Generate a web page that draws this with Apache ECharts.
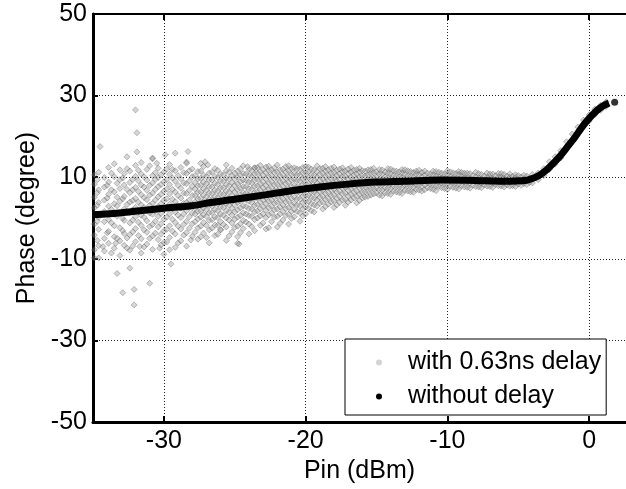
<!DOCTYPE html>
<html><head><meta charset="utf-8">
<script src="https://cdn.jsdelivr.net/npm/echarts@6/dist/echarts.min.js"></script>
<style>html,body{margin:0;padding:0;background:#fff}#c{width:626px;height:489px}</style>
</head><body><div id="c"></div>
<script>
// ---- data ----
const xTicks = [-30, -20, -10, 0];
const yTicks = [-50, -30, -10, 10, 30, 50];
const seriesNames = ['with 0.63ns delay', 'without delay'];

// "without delay" curve: Pin (dBm) and Phase (degree)
const curvePin   = [-35, -33, -31.7, -30, -28, -26.7, -25, -23, -21, -19, -17, -15, -13, -10.5, -8, -6, -4.5, -4, -3.5, -3, -2.5, -2, -1.5, -1, -0.5, 0, 0.5, 1.0, 1.4];
const curvePhase = [0.8, 1.3, 1.8, 2.4, 3.0, 3.8, 4.6, 5.6, 6.7, 7.6, 8.3, 8.8, 9.0, 9.3, 9.2, 9.0, 9.2, 9.7, 10.5, 11.8, 13.5, 15.4, 17.6, 19.8, 22.3, 24.4, 26.2, 27.5, 28.2];
const lastPin = [1.8];
const lastPhase = [28.4];

// "with 0.63ns delay" cloud: each column = [Pin, phase values...]
const cloudColumns = [
 [-34.9,-9.8,-4.2,-1.5,2.5,5.1,8.3,10.6],
 [-34.7,-5.5,-0.8,3.1,6.2,9.4],
 [-34.6,-6.8,-2.8,0.2,3.8,6.9,11.2],
 [-34.2,-8.1,-5.0,-0.9,1.6,4.4,7.6,9.9],
 [-34.0,-3.6,1.0,4.9,8.0],
 [-33.9,-6.2,-3.3,-0.4,2.9,5.8,8.8,12.4],
 [-33.7,-8.6,-1.2,2.1,6.9,11.0],
 [-33.5,-7.4,-4.6,-1.9,0.9,3.5,6.4,10.1,13.3],
 [-33.3,-5.0,0.4,3.0,5.1,8.5],
 [-33.1,-9.2,-5.6,-2.4,1.2,4.1,7.2,9.4,11.8],
 [-32.9,-3.1,-0.1,4.7,9.8],
 [-32.8,-6.7,-3.8,-0.6,2.2,5.3,8.1,10.9],
 [-32.6,-4.9,1.6,3.3,7.0,12.1],
 [-32.4,-7.9,-4.1,-1.2,1.4,3.9,6.2,8.7,11.5],
 [-32.2,-6.9,-3.4,-0.5,2.0,4.3,6.9,9.5],
 [-32.0,-5.8,-2.6,0.3,2.6,4.8,7.5,10.2,12.9],
 [-31.8,-4.3,-1.0,1.5,3.9,6.5,9.1,11.7],
 [-31.6,-8.6,-5.1,-1.8,0.7,3.2,5.7,8.1,10.8,13.6],
 [-31.4,-7.1,-2.9,0.2,2.6,5.0,7.6,10.1],
 [-31.2,-6.4,-3.5,-0.7,1.9,4.5,6.8,9.3,11.9],
 [-31.0,-5.0,-2.1,1.2,3.1,5.6,8.0,12.8],
 [-30.8,-7.7,-4.4,-1.6,0.9,3.6,6.1,8.6,10.4,14.5],
 [-30.6,-3.7,-0.8,1.7,4.4,7.0,9.5,11.1],
 [-30.4,-5.3,-2.2,0.4,2.8,5.2,7.7,9.9,12.2],
 [-30.2,-6.6,-4.0,-1.4,1.1,3.5,5.8,8.2,10.6],
 [-30.0,-8.9,-6.0,-3.1,-0.3,2.1,4.3,6.6,8.9,11.3],
 [-29.8,-5.9,-2.8,0.2,2.5,4.7,7.1,9.4,12.0],
 [-29.6,-4.8,-1.9,1.0,3.4,5.9,8.2,10.7,13.1],
 [-29.4,-3.2,-0.3,2.2,4.6,7.0,9.8,11.9],
 [-29.2,-7.2,-3.9,-1.1,1.5,4.0,6.4,9.0,11.6],
 [-29.0,-6.1,-2.0,0.7,3.0,5.5,8.0,10.4],
 [-28.8,-5.6,-2.7,0.1,2.4,4.9,7.3,9.6,12.4],
 [-28.6,-4.2,-1.6,1.0,3.6,6.1,8.6,11.1],
 [-28.4,-6.9,-3.6,-0.8,1.8,3.8,6.0,8.4,10.9,13.7],
 [-28.2,-2.5,0.3,2.6,4.4,6.8,9.1,11.6],
 [-28.0,-4.5,-1.4,1.2,3.3,5.5,7.8,10.1,12.0],
 [-27.8,-3.5,-0.9,1.0,2.4,3.9,5.5,7.1,8.7,10.4],
 [-27.6,-5.2,-2.4,-0.2,1.6,3.1,4.7,6.3,7.9,9.6,11.4],
 [-27.4,-2.0,0.2,1.7,3.3,4.8,6.4,8.0,9.7,11.5],
 [-27.2,-3.7,-1.1,0.8,2.5,4.0,5.6,7.2,8.8,10.5,12.6],
 [-27.0,-4.8,-1.8,0.4,2.0,3.6,5.2,6.8,8.4,10.1],
 [-26.8,-6.1,-2.9,-0.6,1.3,3.0,4.6,6.1,7.7,9.3,11.0],
 [-26.6,-2.5,-0.4,1.3,2.9,4.5,6.0,7.6,9.3,11.2],
 [-26.4,-4.3,-1.7,0.3,2.1,3.7,5.3,6.8,8.5,10.2,12.1],
 [-26.2,-4.0,-1.8,0.1,1.8,3.4,5.0,6.6,8.2,9.9,11.7],
 [-26.0,-2.9,-0.9,1.0,2.7,4.3,5.9,7.4,9.1,10.8],
 [-25.8,-1.6,0.7,2.6,4.2,5.8,7.4,9.0,10.6],
 [-25.6,-5.5,-2.2,0.0,1.8,3.5,5.1,6.6,8.2,9.8,11.6],
 [-25.4,-4.4,-0.5,1.4,3.1,4.7,6.3,7.9,9.5,11.2],
 [-25.2,-3.4,-1.2,0.7,2.4,4.0,5.5,7.1,8.7,10.4,12.2],
 [-25.0,-2.3,-0.3,1.5,3.2,4.9,6.4,8.0,9.6,11.0],
 [-24.8,-4.6,-2.0,0.2,2.0,3.8,5.3,6.9,8.4,10.0,11.5],
 [-24.6,-3.6,-1.4,0.6,2.5,4.1,5.7,7.3,8.9,10.5,12.0],
 [-24.4,-2.6,-0.6,1.3,3.0,4.6,6.2,7.7,9.3,10.9,12.8],
 [-24.2,-1.0,1.0,2.8,4.5,6.1,7.7,9.2,10.8],
 [-24.0,-3.9,-1.5,0.6,2.3,4.1,5.7,7.2,8.8,10.4,11.9],
 [-23.8,-2.1,0.4,2.2,3.8,5.4,7.0,8.6,10.1,11.6],
 [-23.6,-3.1,-0.4,1.5,3.1,4.7,6.2,7.8,9.3,10.8,12.3],
 [-23.4,0.0,1.7,3.3,4.9,6.4,7.9,9.5,11.0,12.4],
 [-23.2,-1.8,0.5,2.3,3.9,5.4,6.9,8.4,9.9,11.4,12.9],
 [-23.0,-1.2,1.0,2.8,4.4,5.9,7.4,8.9,10.5,11.9],
 [-22.8,-2.7,0.1,1.9,3.5,5.0,6.5,8.0,9.6,11.1,12.5],
 [-22.6,-2.4,0.8,2.5,4.1,5.6,7.1,8.6,10.1,11.6,12.7],
 [-22.4,-0.9,1.2,2.9,4.4,5.9,7.4,8.9,10.4,11.8],
 [-22.2,0.2,2.0,3.6,5.1,6.6,8.1,9.6,11.1,12.3],
 [-22.0,-2.2,0.4,2.2,3.8,5.3,6.8,8.3,9.8,11.3,13.0],
 [-21.8,-1.3,1.0,2.7,4.3,5.8,7.3,8.8,10.3,11.8],
 [-21.6,-0.5,1.6,3.2,4.7,6.2,7.7,9.1,10.6,12.0],
 [-21.4,0.6,2.3,3.9,5.4,6.9,8.4,9.8,11.3,12.6],
 [-21.2,-1.5,0.9,2.6,4.2,5.7,7.2,8.7,10.1,11.6,12.8],
 [-21.0,-0.1,1.6,3.2,4.8,6.3,7.8,9.3,10.7,12.1],
 [-20.8,0.3,2.1,3.6,5.1,6.6,8.0,9.5,10.9,12.3],
 [-20.6,1.6,3.2,4.7,6.2,7.7,9.2,10.6,12.0],
 [-20.4,-0.8,1.3,3.0,4.6,6.1,7.5,9.0,10.5,11.9],
 [-20.2,0.5,2.2,3.8,5.3,6.8,8.2,9.6,11.0,12.4],
 [-20.0,1.0,2.7,4.2,5.6,7.0,8.4,9.8,11.2,12.6],
 [-19.8,2.3,4.0,5.5,7.0,8.5,9.9,11.3,12.5],
 [-19.6,1.8,3.5,5.0,6.4,7.8,9.2,10.6,12.0],
 [-19.4,1.5,3.2,4.8,6.3,7.7,9.1,10.5,11.8],
 [-19.2,2.9,4.4,5.8,7.2,8.6,10.0,11.4,12.8],
 [-19.0,3.6,5.1,6.5,7.9,9.3,10.7,12.1],
 [-18.8,2.2,3.9,5.4,6.8,8.2,9.6,11.0,12.2],
 [-18.6,2.8,4.5,6.0,7.4,8.8,10.2,11.5,12.6],
 [-18.4,3.4,4.9,6.3,7.7,9.1,10.5,11.8],
 [-18.2,3.9,5.4,6.8,8.2,9.6,11.0,12.2],
 [-18.0,2.6,4.2,5.7,7.1,8.5,9.9,11.2,12.5],
 [-17.8,3.2,4.8,6.3,7.7,9.1,10.4,11.7],
 [-17.6,3.8,5.2,6.6,8.0,9.4,10.8,12.0],
 [-17.4,4.4,5.9,7.3,8.7,10.1,11.4,12.3],
 [-17.2,3.1,4.6,6.1,7.5,8.9,10.2,11.5],
 [-17.0,3.9,5.4,6.8,8.2,9.6,10.9,12.0],
 [-16.8,4.4,5.8,7.2,8.6,10.0,11.3,12.4],
 [-16.6,4.9,6.3,7.7,9.1,10.5,11.7],
 [-16.4,3.7,5.3,6.7,8.1,9.5,10.8,11.9],
 [-16.2,4.3,5.8,7.2,8.6,10.0,11.3,12.2],
 [-16.0,4.9,6.2,7.6,8.9,10.3,11.6],
 [-15.8,5.1,6.4,7.7,9.0,10.3,11.5],
 [-15.6,5.3,6.7,8.0,9.3,10.6,11.8],
 [-15.4,5.6,7.0,8.3,9.6,10.9,11.9],
 [-15.2,5.9,7.2,8.5,9.8,11.1,12.2],
 [-15.0,6.1,7.4,8.7,10.0,11.3],
 [-14.8,5.6,6.9,8.2,9.5,10.8,11.9],
 [-14.6,5.4,6.8,8.1,9.4,10.7,11.8],
 [-14.4,6.2,7.5,8.8,10.1,11.3],
 [-14.2,6.0,7.3,8.6,9.9,11.1,12.1],
 [-14.0,5.8,7.1,8.4,9.7,10.9,12.0],
 [-13.8,6.6,7.9,9.2,10.5,11.6],
 [-13.6,6.4,7.7,9.0,10.3,11.5],
 [-13.4,6.2,7.5,8.8,10.1,11.3],
 [-13.2,6.0,7.3,8.6,9.9,11.1,11.9],
 [-13.0,6.8,8.1,9.4,10.7,11.8],
 [-12.8,6.6,7.9,9.2,10.4,11.6],
 [-12.6,6.4,7.7,9.0,10.2,11.4],
 [-12.4,6.3,7.5,8.8,10.0,11.2],
 [-12.2,7.0,8.2,9.5,10.8,11.5],
 [-12.0,6.8,8.0,9.3,10.6,11.7],
 [-11.8,6.6,7.8,9.0,10.2,11.2],
 [-11.6,6.9,8.1,9.3,10.5,11.5],
 [-11.4,7.4,8.6,9.8,11.0],
 [-11.2,7.2,8.4,9.6,10.8],
 [-11.0,7.0,8.2,9.4,10.6,11.5],
 [-10.8,6.7,7.9,9.1,10.3,11.4],
 [-10.6,7.7,8.9,10.1,11.2],
 [-10.4,7.4,8.6,9.8,11.0],
 [-10.2,7.2,8.4,9.6,10.8],
 [-10.0,7.0,8.2,9.4,10.6,11.6],
 [-9.8,7.8,9.0,10.2,11.3],
 [-9.6,7.5,8.7,9.9,11.1],
 [-9.4,7.3,8.5,9.7,10.9],
 [-9.2,7.1,8.3,9.5,10.7,11.4],
 [-9.0,7.9,9.1,10.3,11.2],
 [-8.8,7.6,8.8,10.0,11.0],
 [-8.6,7.5,8.7,9.9,11.0],
 [-8.4,7.3,8.5,9.7,10.9],
 [-8.2,8.0,9.2,10.4],
 [-8.0,7.7,8.9,10.1,11.2],
 [-7.8,7.6,8.7,9.8,10.9],
 [-7.6,7.4,8.5,9.6,10.7],
 [-7.4,8.1,9.2,10.3],
 [-7.2,7.8,8.9,10.0,11.0],
 [-7.0,7.7,8.8,9.9,10.8],
 [-6.8,7.5,8.6,9.7,10.8],
 [-6.6,8.2,9.3,10.4],
 [-6.4,7.9,9.0,10.1,10.9],
 [-6.2,7.8,8.9,10.0,10.9],
 [-6.0,7.6,8.7,9.8,10.7],
 [-5.8,8.1,9.2,10.3],
 [-5.6,7.8,8.9,10.0,10.8],
 [-5.4,7.9,9.0,10.2],
 [-5.2,7.7,8.8,9.9,10.6],
 [-5.0,8.3,9.4,10.4],
 [-4.8,8.0,9.0,10.1],
 [-4.6,8.4,9.5,10.5],
 [-4.4,8.2,9.2,10.3],
 [-4.2,8.7,9.8],
 [-4.0,8.6,9.6,10.7],
 [-3.6,9.4,11.0],
 [-3.2,10.4,12.1],
 [-2.8,11.9,13.8],
 [-2.4,13.2,15.0],
 [-2.0,14.7,16.5],
 [-1.6,17.0,18.7],
 [-1.2,18.9,20.6],
 [-0.8,20.7,22.3],
 [-0.4,22.4,24.0],
 [0.0,23.8,25.3],
 [0.4,25.3,26.7],
 [0.8,26.4,27.6],
 [1.2,27.3,28.5]
];
// isolated points of the cloud: [Pin, phase]
const cloudOutliers = [
 [-32.0,26.5],[-31.9,20.9],[-34.5,17.5],[-31.9,16.2],[-32.6,15.0],[-30.8,14.7],[-30.5,13.4],
 [-29.2,15.9],[-28.3,16.3],[-28.4,13.4],[-27.4,13.4],[-27.1,13.8],[-26.9,13.0],[-25.6,13.0],
 [-24.1,12.6],[-23.6,12.3],[-29.9,15.5],
 [-33.3,-13.6],[-32.4,-12.3],[-32.9,-18.3],[-32.1,-17.5],[-31.0,-16.0],[-32.1,-21.3],
 [-29.5,-11.3],[-34.6,-9.8],[-24.7,-6.4],[-34.9,-7.8],[-34.3,-7.0],[-33.4,-6.2],[-32.6,-7.4],
 [-31.7,-7.0],[-30.3,-7.4],[-29.6,-7.8],[-28.1,-5.4],[-27.4,-4.6],[-26.0,-2.9],[-24.8,-6.2]
];

// ---- build ----
const cloudPoints = [];
cloudColumns.forEach(col => { for (let i = 1; i < col.length; i++) cloudPoints.push([col[0], col[i]]); });
cloudOutliers.forEach(p => cloudPoints.push(p));
const curvePoints = curvePin.map((x, i) => [x, curvePhase[i]]);
const lastPoints = lastPin.map((x, i) => [x, lastPhase[i]]);

const FONT = 'Liberation Sans';
const FS = 25;
const chart = echarts.init(document.getElementById('c'), null, {renderer: 'canvas'});
chart.setOption({
  animation: false,
  backgroundColor: '#fff',
  grid: {left: 93, right: 0, top: 14, bottom: 67, outerBoundsMode: 'none', containLabel: false},
  xAxis: [{
    type: 'value', min: -35, max: 2.6, position: 'bottom',
    name: 'Pin (dBm)', nameLocation: 'middle', nameGap: 33,
    nameTextStyle: {fontFamily: FONT, fontSize: FS, color: '#000'},
    axisLine: {show: true, onZero: false, lineStyle: {color: '#000', width: 3}},
    axisTick: {show: true, inside: true, length: 6, customValues: xTicks, lineStyle: {color: '#000', width: 2}},
    axisLabel: {customValues: xTicks, fontFamily: FONT, fontSize: FS, color: '#000', margin: 7},
    splitLine: {show: true, lineStyle: {color: '#222', width: 1, type: [1, 2]}}
  }, {
    type: 'value', min: -35, max: 2.6, position: 'top',
    axisLine: {show: true, onZero: false, lineStyle: {color: '#000', width: 2}},
    axisTick: {show: true, inside: true, length: 6, customValues: xTicks, lineStyle: {color: '#000', width: 2}},
    axisLabel: {show: false},
    splitLine: {show: false}
  }],
  yAxis: {
    type: 'value', min: -50, max: 50, interval: 20,
    name: 'Phase (degree)', nameLocation: 'middle', nameGap: 53,
    nameTextStyle: {fontFamily: FONT, fontSize: FS, color: '#000'},
    axisLine: {show: true, onZero: false, lineStyle: {color: '#000', width: 3}},
    axisTick: {show: true, inside: true, length: 5, customValues: yTicks, lineStyle: {color: '#000', width: 2}},
    axisLabel: {customValues: yTicks, fontFamily: FONT, fontSize: FS, color: '#000', margin: 6},
    splitLine: {show: true, lineStyle: {color: '#222', width: 1, type: [1, 2]}}
  },
  legend: {
    orient: 'vertical', left: 345, top: 339,
    padding: [11, 5, 6, 31], itemGap: 9, itemWidth: 10, itemHeight: 6,
    backgroundColor: '#fff', borderColor: '#000', borderWidth: 1, borderRadius: 0,
    textStyle: {fontFamily: FONT, fontSize: FS, color: '#000', lineHeight: 24, padding: [0, 0, 0, 19]},
    data: [
      {name: seriesNames[0], icon: 'circle', itemStyle: {color: '#c8c8c8', borderWidth: 0}},
      {name: seriesNames[1], icon: 'circle', itemStyle: {color: '#000', borderWidth: 0}}
    ]
  },
  series: [{
    name: seriesNames[0], type: 'scatter', data: cloudPoints, z: 2,
    symbol: 'diamond', symbolSize: 6,
    itemStyle: {color: 'rgba(140,140,140,0.45)', borderColor: 'rgba(80,80,80,0.75)', borderWidth: 0.6}
  }, {
    name: seriesNames[1], type: 'line', data: curvePoints, z: 3,
    showSymbol: false, smooth: 0.3, lineStyle: {color: '#000', width: 7}, itemStyle: {color: '#000'}
  }, {
    name: seriesNames[1], type: 'scatter', data: lastPoints, z: 3,
    symbol: 'circle', symbolSize: 7, itemStyle: {color: '#000'}
  }]
});
</script></body></html>
